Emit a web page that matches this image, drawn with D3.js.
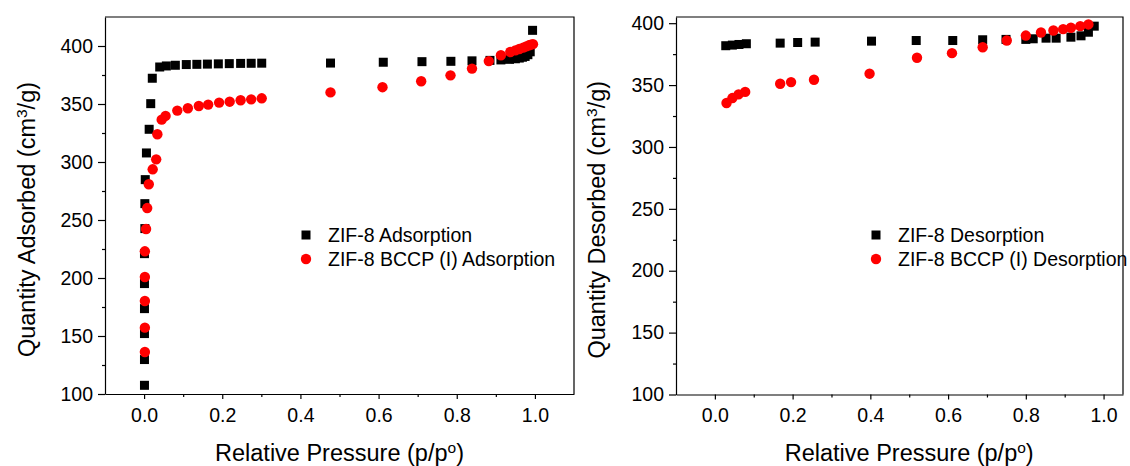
<!DOCTYPE html>
<html>
<head>
<meta charset="utf-8">
<script src="https://cdn.jsdelivr.net/npm/d3@7"></script>
<style>
  body { margin: 0; background: #fff; }
  svg { display: block; font-family: Arial, "Liberation Sans", sans-serif; }
</style>
</head>
<body>
<div id="chart"></div>
<script>
// ---- data ----
const adsBlackX = [0.001, 0.001, 0.001, 0.001, 0.001, 0.001, 0.002, 0.002, 0.003, 0.006, 0.013, 0.017, 0.021,
  0.04, 0.057, 0.08, 0.108, 0.135, 0.162, 0.19, 0.218, 0.247, 0.274, 0.301,
  0.477, 0.612, 0.711, 0.785, 0.839, 0.885, 0.913, 0.935, 0.95, 0.96, 0.968, 0.975, 0.982, 0.988, 0.994];
const adsBlackY = [107.5, 129.7, 152.1, 173.6, 195.2, 221.0, 242.6, 264.1, 284.8, 307.8, 328.2, 350.3, 372.2,
  381.9, 382.8, 383.4, 384, 384.2, 384.4, 384.6, 384.8, 385, 385.1, 385.2, 385.3,
  386, 386.5, 386.8, 387.2, 387.6, 388, 388.5, 389, 389.6, 390.3, 391, 392.5, 395, 413.5];

const adsRedX = [0.002, 0.002, 0.002, 0.002, 0.002, 0.005, 0.008, 0.012, 0.022, 0.031, 0.034, 0.045, 0.055,
  0.085, 0.112, 0.14, 0.164, 0.192, 0.219, 0.247, 0.274, 0.301,
  0.477, 0.61, 0.709, 0.784, 0.839, 0.882, 0.913, 0.937, 0.95, 0.96, 0.97, 0.978, 0.985, 0.99, 0.995];
const adsRedY = [136.2, 157.2, 180.2, 200.9, 223, 242.2, 260.3, 280.8, 293.7, 302.3, 323.9, 336.5, 339.7,
  344.3, 346.3, 348.3, 349.5, 351.2, 352, 353.2, 354, 354.9,
  360, 364.5, 369.6, 374.7, 380.5, 387, 392, 394.8, 396.2, 397.4, 398.6, 399.7, 400.6, 401.2, 401.6];

const desBlackX = [0.028, 0.045, 0.062, 0.081, 0.168, 0.213, 0.258, 0.403, 0.518, 0.612, 0.689, 0.749,
  0.8, 0.819, 0.852, 0.878, 0.916, 0.942, 0.961, 0.976];
const desBlackY = [381.8, 382.3, 382.8, 383.4, 383.9, 384.4, 384.7, 385.5, 386, 386, 386.6, 386.9,
  386.9, 387.4, 387.9, 387.9, 388.7, 389.8, 392.7, 397.6];

const desRedX = [0.03, 0.045, 0.061, 0.078, 0.168, 0.196, 0.255, 0.398, 0.52, 0.61, 0.689, 0.751,
  0.8, 0.839, 0.871, 0.896, 0.916, 0.94, 0.961];
const desRedY = [335.5, 339.5, 342.5, 344.5, 351.1, 352.4, 354.3, 359.2, 372.1, 375.8, 380.6, 386,
  390, 392.5, 394.1, 395.2, 396.3, 397.6, 399];

const xTicks = [0, 0.2, 0.4, 0.6, 0.8, 1.0];
const yTicks = [100, 150, 200, 250, 300, 350, 400];

const width = 1130, height = 466;
const svg = d3.select("#chart").append("svg")
  .attr("width", width)
  .attr("height", height);

const panels = [
  {
    left: 105, right: 574, top: 17, bottom: 394,
    xDomain: [-0.1, 1.1], yDomain: [100, 425],
    yTitle: "Quantity Adsorbed (cm", yTitleX: 27,
    black: [adsBlackX, adsBlackY], red: [adsRedX, adsRedY],
    legend: ["ZIF-8 Adsorption", "ZIF-8 BCCP (I) Adsorption"],
    legendX: 306, legendY: 235
  },
  {
    left: 676, right: 1123, top: 17, bottom: 394.5,
    xDomain: [-0.1, 1.05], yDomain: [100, 405],
    yTitle: "Quantity Desorbed (cm", yTitleX: 597,
    black: [desBlackX, desBlackY], red: [desRedX, desRedY],
    legend: ["ZIF-8 Desorption", "ZIF-8 BCCP (I) Desorption"],
    legendX: 876, legendY: 235
  }
];

panels.forEach(p => {
  const x = d3.scaleLinear().domain(p.xDomain).range([p.left, p.right]);
  const y = d3.scaleLinear().domain(p.yDomain).range([p.bottom, p.top]);
  const g = svg.append("g");

  // frame (top and right)
  g.append("path")
    .attr("d", `M${p.left},${p.top}H${p.right}V${p.bottom}`)
    .attr("fill", "none")
    .attr("stroke", "#000")
    .attr("stroke-width", 1.2);

  // x axis
  g.append("g")
    .attr("transform", `translate(0,${p.bottom})`)
    .call(d3.axisBottom(x).tickValues(xTicks).tickFormat(d3.format(".1f")).tickSize(5).tickPadding(9).tickSizeOuter(0));
  g.append("g")
    .attr("transform", `translate(0,${p.bottom})`)
    .call(d3.axisBottom(x).tickValues([0.1, 0.3, 0.5, 0.7, 0.9]).tickFormat("").tickSize(3).tickSizeOuter(0))
    .select(".domain").remove();

  // y axis
  g.append("g")
    .attr("transform", `translate(${p.left},0)`)
    .call(d3.axisLeft(y).tickValues(yTicks).tickSize(7).tickPadding(5).tickSizeOuter(0));
  g.append("g")
    .attr("transform", `translate(${p.left},0)`)
    .call(d3.axisLeft(y).tickValues([125, 175, 225, 275, 325, 375]).tickFormat("").tickSize(3).tickSizeOuter(0))
    .select(".domain").remove();

  g.selectAll(".domain").attr("stroke-width", 1.2);
  g.selectAll(".tick line").attr("stroke-width", 1.2);
  g.selectAll(".tick text")
    .attr("font-size", 19.5)
    .attr("font-family", "Arial, 'Liberation Sans', sans-serif")
    .attr("fill", "#000");

  // x title
  const xt = g.append("text")
    .attr("x", (x(0) + x(1)) / 2)
    .attr("y", 461)
    .attr("text-anchor", "middle")
    .attr("font-size", 23.5)
    .text("Relative Pressure (p/p");
  xt.append("tspan").attr("baseline-shift", "super").attr("font-size", 15.5).text("o");
  xt.append("tspan").text(")");

  // y title
  const yt = g.append("text")
    .attr("transform", `translate(${p.yTitleX},${(p.top + p.bottom) / 2 + 14}) rotate(-90)`)
    .attr("text-anchor", "middle")
    .attr("dy", "0.35em")
    .attr("font-size", 23.5)
    .text(p.yTitle);
  yt.append("tspan").attr("baseline-shift", "super").attr("font-size", 15.5).text("3");
  yt.append("tspan").text("/g)");

  // black squares
  const s = 9;
  g.append("g").selectAll("rect")
    .data(d3.zip(p.black[0], p.black[1]))
    .join("rect")
    .attr("x", d => x(d[0]) - s / 2)
    .attr("y", d => y(d[1]) - s / 2)
    .attr("width", s)
    .attr("height", s)
    .attr("fill", "#000");

  // red circles
  g.append("g").selectAll("circle")
    .data(d3.zip(p.red[0], p.red[1]))
    .join("circle")
    .attr("cx", d => x(d[0]))
    .attr("cy", d => y(d[1]))
    .attr("r", 5.2)
    .attr("fill", "#ff0000");

  // legend
  const lg = g.append("g").attr("transform", `translate(${p.legendX},${p.legendY})`);
  lg.append("rect").attr("x", -4.5).attr("y", -4.5).attr("width", 9).attr("height", 9).attr("fill", "#000");
  lg.append("circle").attr("cx", 0).attr("cy", 24).attr("r", 5.2).attr("fill", "#ff0000");
  lg.selectAll("text")
    .data(p.legend)
    .join("text")
    .attr("x", 22)
    .attr("y", (d, i) => i * 24)
    .attr("dy", "0.35em")
    .attr("font-size", 19.5)
    .text(d => d);
});
</script>
</body>
</html>
